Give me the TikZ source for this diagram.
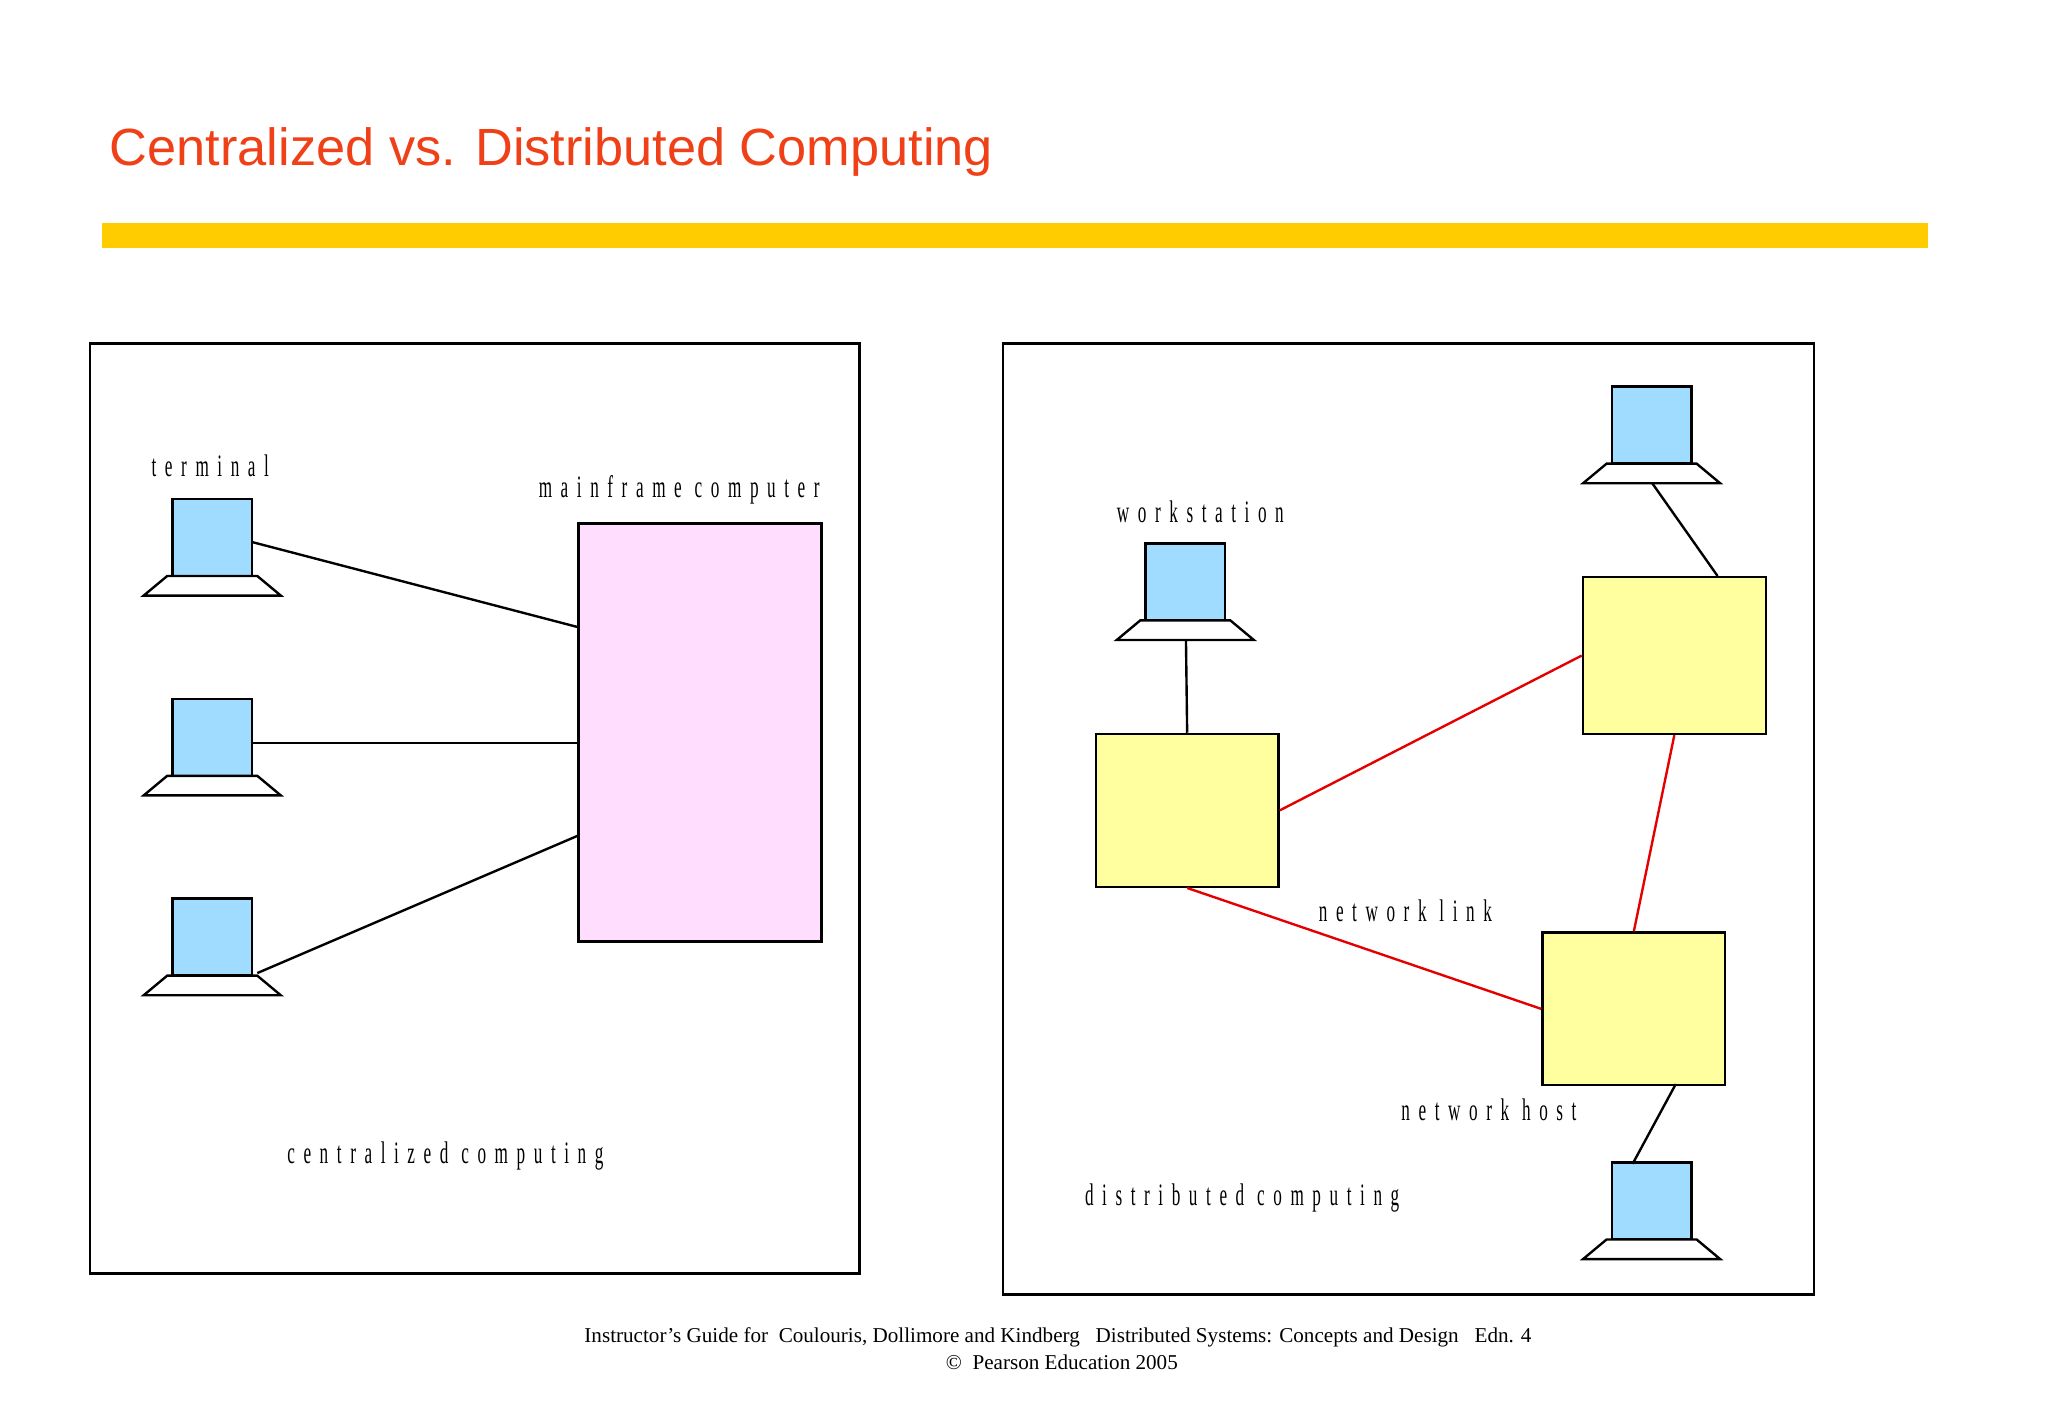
\documentclass[tikz,border=0pt]{standalone}
\usepackage{fontspec}
\setmainfont{Liberation Serif}
\newfontfamily\sansf{Liberation Sans}
\newfontfamily\spaced[LetterSpace=50]{Liberation Serif}
\begin{document}
\begin{tikzpicture}[x=0.5mm,y=-0.5mm,
  ln/.style={line width=2.6pt,black},
  rl/.style={line width=2.6pt,red!90!black},
  lab/.style={font=\spaced\fontsize{34}{34}\selectfont,xscale=0.55,inner sep=0},
  scr/.style={ln,fill={rgb,255:red,160;green,220;blue,255}},
  yb/.style={ln,fill={rgb,255:red,255;green,255;blue,160}}]
\useasboundingbox (0,0) rectangle (1568,1086);
\fill[white] (0,0) rectangle (1568,1086);
\node[anchor=west,text={rgb,255:red,240;green,64;blue,24},font=\sansf\fontsize{57}{57}\selectfont,inner sep=0] (title) at (84,116) {Centralized vs. Distributed Computing};
\fill[fill={rgb,255:red,255;green,204;blue,0}] (78,171) rectangle (1476,190);
\draw[ln] (69,263) rectangle (658,975);
\draw[ln] (768,263) rectangle (1389,991);
\tikzset{term/.pic={
  \draw[scr] (-31,-74) rectangle (30,-15);
  \draw[ln,fill=white] (-35,-15) -- (34,-15) -- (52,0) -- (-53,0) -- cycle;
  \coordinate (-base) at (0,0);
}}
\pic (t1) at (163,456) {term};
\pic (t2) at (163,609) {term};
\pic (t3) at (163,762) {term};
\pic (w1) at (908,490) {term};
\pic (w2) at (1265,370) {term};
\pic (w3) at (1265,964) {term};
\node[ln,fill={rgb,255:red,255;green,221;blue,255},draw,minimum width=186*0.5mm,minimum height=320*0.5mm,anchor=north west,inner sep=0] (mf) at (442,400) {};
\node[yb,draw,minimum width=140*0.5mm,minimum height=117*0.5mm,anchor=north west,inner sep=0] (A) at (838,561) {};
\node[yb,draw,minimum width=140*0.5mm,minimum height=120*0.5mm,anchor=north west,inner sep=0] (B) at (1211,441) {};
\node[yb,draw,minimum width=140*0.5mm,minimum height=117*0.5mm,anchor=north west,inner sep=0] (C) at (1180,713) {};
\coordinate (t1r) at (193,415); \coordinate (m1) at (442,480);
\coordinate (t2r) at (193,569); \coordinate (m2) at (442,569);
\coordinate (t3r) at (197,745); \coordinate (m3) at (442,640);
\draw[ln] (t1r) -- (m1); \draw[ln] (t2r) -- (m2); \draw[ln] (t3r) -- (m3);
\draw[ln] (w1-base) -- (A.north);
\draw[ln] (w2-base) -- (1315,441);
\draw[ln] (1283,830) -- (1250,891);
\draw[rl] (A.east) -- (B.west);
\draw[rl] (A.south) -- (C.west);
\draw[rl] (B.south) -- (C.north);
\node[lab] (l1) at (161,357) {terminal};
\node[lab] (l2) at (520,375) {mainframe computer};
\node[lab] (l3) at (341,885) {centralized computing};
\node[lab] (l4) at (919,392) {workstation};
\node[lab] (l5) at (1076,697) {network link};
\node[lab] (l6) at (1140,850) {network host};
\node[lab] (l7) at (951,917) {distributed computing};
\node[font=\fontsize{23}{23}\selectfont,inner sep=0] (f1) at (810,1024) {Instructor’s Guide for\ \ Coulouris, Dollimore and Kindberg\ \ \ Distributed Systems: Concepts and Design\ \ \ Edn. 4};
\node[font=\fontsize{23}{23}\selectfont,inner sep=0] (f2) at (813,1043) {©\ \ Pearson Education 2005};
\end{tikzpicture}
\end{document}
